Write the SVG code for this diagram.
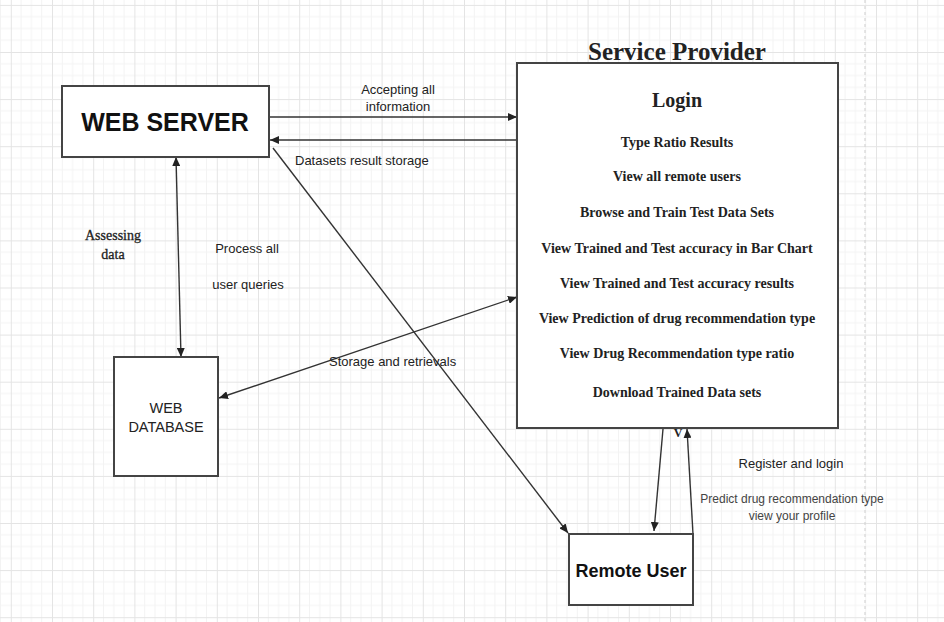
<svg xmlns="http://www.w3.org/2000/svg" width="944" height="622" viewBox="0 0 944 622">
  <defs>
    <pattern id="grid" x="10.8" y="4.9" width="41.2" height="47.1" patternUnits="userSpaceOnUse">
      <path d="M10.3,0V47.1M20.6,0V47.1M30.9,0V47.1M0,11.8H41.2M0,23.6H41.2M0,35.3H41.2" stroke="#f3f3f3" stroke-width="1" fill="none"/>
      <path d="M0.5,0V47.1M0,0.5H41.2" stroke="#e4e4e4" stroke-width="1" fill="none"/>
    </pattern>
    <marker id="arr" viewBox="0 0 9 8" refX="9" refY="4" markerWidth="9" markerHeight="8" markerUnits="userSpaceOnUse" orient="auto-start-reverse">
      <path d="M0,0 L9,4 L0,8 z" fill="#222"/>
    </marker>
    <style>
      .box { fill: #ffffff; stroke: #444; stroke-width: 2; }
      .conn { stroke: #333; stroke-width: 1.4; fill: none; }
      .sans { font-family: "Liberation Sans", Arial, sans-serif; }
      .serif { font-family: "Liberation Serif", "Times New Roman", serif; }
      .lbl { font-family: "Liberation Sans", Arial, sans-serif; font-size: 13px; fill: #222; }
      .lbls { font-family: "Liberation Sans", Arial, sans-serif; font-size: 12px; fill: #444; }
      .item { font-family: "Liberation Serif", "Times New Roman", serif; font-size: 14px; font-weight: bold; fill: #222; text-anchor: middle; }
    </style>
  </defs>
  <rect x="0" y="0" width="944" height="622" fill="#ffffff"/>
  <rect x="0" y="0" width="944" height="622" fill="url(#grid)"/>
  <line x1="865" y1="0" x2="865" y2="622" stroke="#d6d6d6" stroke-width="1.2" stroke-dasharray="3,3"/>

  <g id="connectors">
    <path class="conn" d="M269,117 L517,117" marker-end="url(#arr)"/>
    <path class="conn" d="M517,140 L270,140" marker-end="url(#arr)"/>
    <path class="conn" d="M176,157 L181,357" marker-start="url(#arr)" marker-end="url(#arr)"/>
    <path class="conn" d="M517,297 L219,398" marker-start="url(#arr)" marker-end="url(#arr)"/>
    <path class="conn" d="M273,148 L568,533" marker-end="url(#arr)"/>
    <path class="conn" d="M663,429 L654,531" marker-end="url(#arr)"/>
    <path class="conn" d="M693,534 L687,429" marker-end="url(#arr)"/>
    <text class="lbl" x="398" y="94" text-anchor="middle">Accepting all</text>
    <text class="lbl" x="398" y="111" text-anchor="middle">information</text>
    <text class="lbl" x="295" y="165">Datasets result storage</text>
    <text class="serif" x="113" y="240" font-size="14" fill="#222" text-anchor="middle" stroke="#222" stroke-width="0.3">Assessing</text>
    <text class="serif" x="113" y="259" font-size="14" fill="#222" text-anchor="middle" stroke="#222" stroke-width="0.3">data</text>
    <text class="lbl" x="247" y="253" text-anchor="middle">Process all</text>
    <text class="lbl" x="248" y="289" text-anchor="middle">user queries</text>
    <text class="lbl" x="329" y="366">Storage and retrievals</text>
    <text class="serif" x="678" y="437" font-size="12" font-weight="bold" fill="#222" text-anchor="middle">V</text>
    <text class="lbl" x="791" y="468" text-anchor="middle">Register and login</text>
    <text class="lbls" x="792" y="503" text-anchor="middle">Predict drug recommendation type</text>
    <text class="lbls" x="792" y="520" text-anchor="middle">view your profile</text>
  </g>

  <g id="web-server">
    <rect class="box" x="62" y="86" width="207" height="71"/>
    <text class="sans" x="165" y="131" font-size="25" font-weight="bold" fill="#111" text-anchor="middle">WEB SERVER</text>
  </g>

  <g id="service-provider">
    <text class="serif" x="677" y="60" font-size="25" font-weight="bold" fill="#222" text-anchor="middle">Service Provider</text>
    <rect class="box" x="517" y="63" width="321" height="365"/>
    <text class="serif" x="677" y="107" font-size="20" font-weight="bold" fill="#222" text-anchor="middle">Login</text>
    <text class="item" x="677" y="147">Type Ratio Results</text>
    <text class="item" x="677" y="181">View all remote users</text>
    <text class="item" x="677" y="217">Browse and Train Test Data Sets</text>
    <text class="item" x="677" y="253">View Trained and Test accuracy in Bar Chart</text>
    <text class="item" x="677" y="288">View Trained and Test accuracy results</text>
    <text class="item" x="677" y="323">View Prediction of drug recommendation type</text>
    <text class="item" x="677" y="358">View Drug Recommendation type ratio</text>
    <text class="item" x="677" y="397">Download Trained Data sets</text>
  </g>

  <g id="web-database">
    <rect class="box" x="114" y="357" width="104" height="119"/>
    <text class="sans" x="166" y="413" font-size="14.5" fill="#222" text-anchor="middle">WEB</text>
    <text class="sans" x="166" y="432" font-size="14.5" fill="#222" text-anchor="middle">DATABASE</text>
  </g>

  <g id="remote-user">
    <rect class="box" x="569" y="534" width="124" height="71"/>
    <text class="sans" x="631" y="577" font-size="18" font-weight="bold" fill="#111" text-anchor="middle">Remote User</text>
  </g>
</svg>
